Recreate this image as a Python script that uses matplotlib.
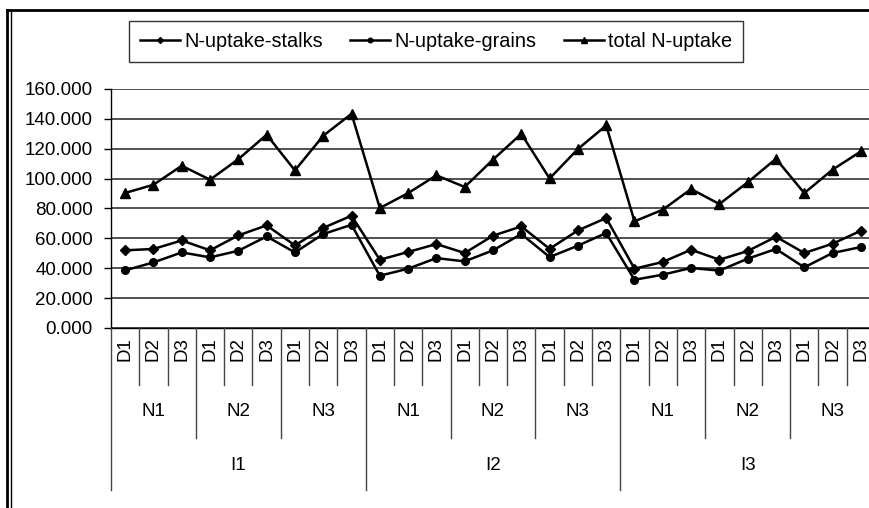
import numpy as np
import matplotlib
matplotlib.use("Agg")
import matplotlib.pyplot as plt
from matplotlib.lines import Line2D
from matplotlib.transforms import blended_transform_factory

plt.rcParams['font.family'] = ['Liberation Sans', 'DejaVu Sans']

irrig = ["I1", "I2", "I3"]
nitro = ["N1", "N2", "N3"]
dose = ["D1", "D2", "D3"]

stalks = [52.0, 52.9, 58.6, 52.0, 62.0, 68.7, 55.3, 67.0, 75.2,
          45.7, 50.9, 56.2, 50.2, 61.8, 68.0, 53.0, 65.3, 73.6,
          39.7, 44.2, 52.4, 45.7, 51.5, 61.1, 50.2, 56.4, 65.1]
grains = [38.6, 43.9, 50.6, 47.3, 51.7, 61.3, 50.6, 62.9, 69.1,
          35.0, 39.7, 46.8, 44.6, 52.0, 62.9, 47.5, 55.1, 63.6,
          32.3, 35.7, 40.2, 38.4, 46.4, 52.9, 40.6, 50.2, 54.2]
total = [90.4, 95.9, 108.6, 99.3, 113.0, 129.4, 105.5, 128.7, 143.4,
         80.3, 90.3, 102.2, 94.4, 112.7, 130.0, 100.1, 119.8, 135.6,
         71.4, 79.2, 93.0, 83.0, 97.5, 113.3, 90.3, 106.0, 118.2]

W, H = 869, 508
def fx(p):
    return p / W
def fy(p):
    return 1 - p / H

fig = plt.figure(figsize=(W / 100, H / 100), dpi=100)
left, right, top, bottom = 111, 875, 89, 328
ax = fig.add_axes([fx(left), fy(bottom), fx(right - left), (bottom - top) / H])

n = len(stalks)
x = np.arange(n)
ax.plot(x, stalks, color='black', lw=1.8, marker='D', ms=5, label='N-uptake-stalks')
ax.plot(x, grains, color='black', lw=1.8, marker='o', ms=5.5, label='N-uptake-grains')
ax.plot(x, total, color='black', lw=1.8, marker='^', ms=7.5, label='total N-uptake')

ax.set_xlim(-0.5, n - 0.5)
ax.set_ylim(0, 160)
ax.set_yticks(np.arange(0, 161, 20))
ax.set_yticklabels(["%.3f" % v for v in np.arange(0, 161, 20)], fontsize=13.5)
ax.tick_params(axis='y', length=5, width=1, pad=8, colors='black')
ax.set_xticks([])
ax.yaxis.grid(True, color='#333333', lw=1.2)
ax.set_axisbelow(True)
for s in ['top', 'right']:
    ax.spines[s].set_visible(False)
ax.spines['left'].set_linewidth(1)
ax.spines['bottom'].set_linewidth(1)

# hierarchical category axis
tr = blended_transform_factory(ax.transData, fig.transFigure)
labs = []
for i in irrig:
    for nn in nitro:
        for d in dose:
            labs.append((i, nn, d))
for k, (i, nn, d) in enumerate(labs):
    ax.text(k, fy(349), d, transform=tr, rotation=90, ha='center', va='center', fontsize=13.5)
for k in range(0, n, 3):
    ax.text(k + 1, fy(411), labs[k][1], transform=tr, ha='center', va='center', fontsize=13.5)
for k in range(0, n, 9):
    ax.text(k + 4, fy(466), labs[k][0], transform=tr, ha='center', va='center', fontsize=13.5)
for k in range(n + 1):
    if k % 9 == 0:
        y2 = 490
    elif k % 3 == 0:
        y2 = 438
    else:
        y2 = 385
    fig.add_artist(Line2D([k - 0.5, k - 0.5], [fy(bottom), fy(y2)], transform=tr,
                          color='#444444', lw=1))

leg = fig.legend(loc='center', bbox_to_anchor=(fx(436), fy(41.5)), ncol=3, fontsize=14.3,
                 frameon=True, fancybox=False, edgecolor='black', handlelength=2,
                 handletextpad=0.2, columnspacing=1.4, markerscale=0.6, borderpad=0.55)
leg.get_frame().set_linewidth(1)

# outer chart frame
fig.add_artist(Line2D([fx(7), fx(W)], [fy(10), fy(10)], color='black', lw=2))
fig.add_artist(Line2D([fx(7.5), fx(7.5)], [fy(10), 0], color='black', lw=2))
fig.add_artist(Line2D([fx(10.5), fx(10.5)], [fy(10), 0], color='black', lw=1))

fig.savefig("out.png", dpi=100)
